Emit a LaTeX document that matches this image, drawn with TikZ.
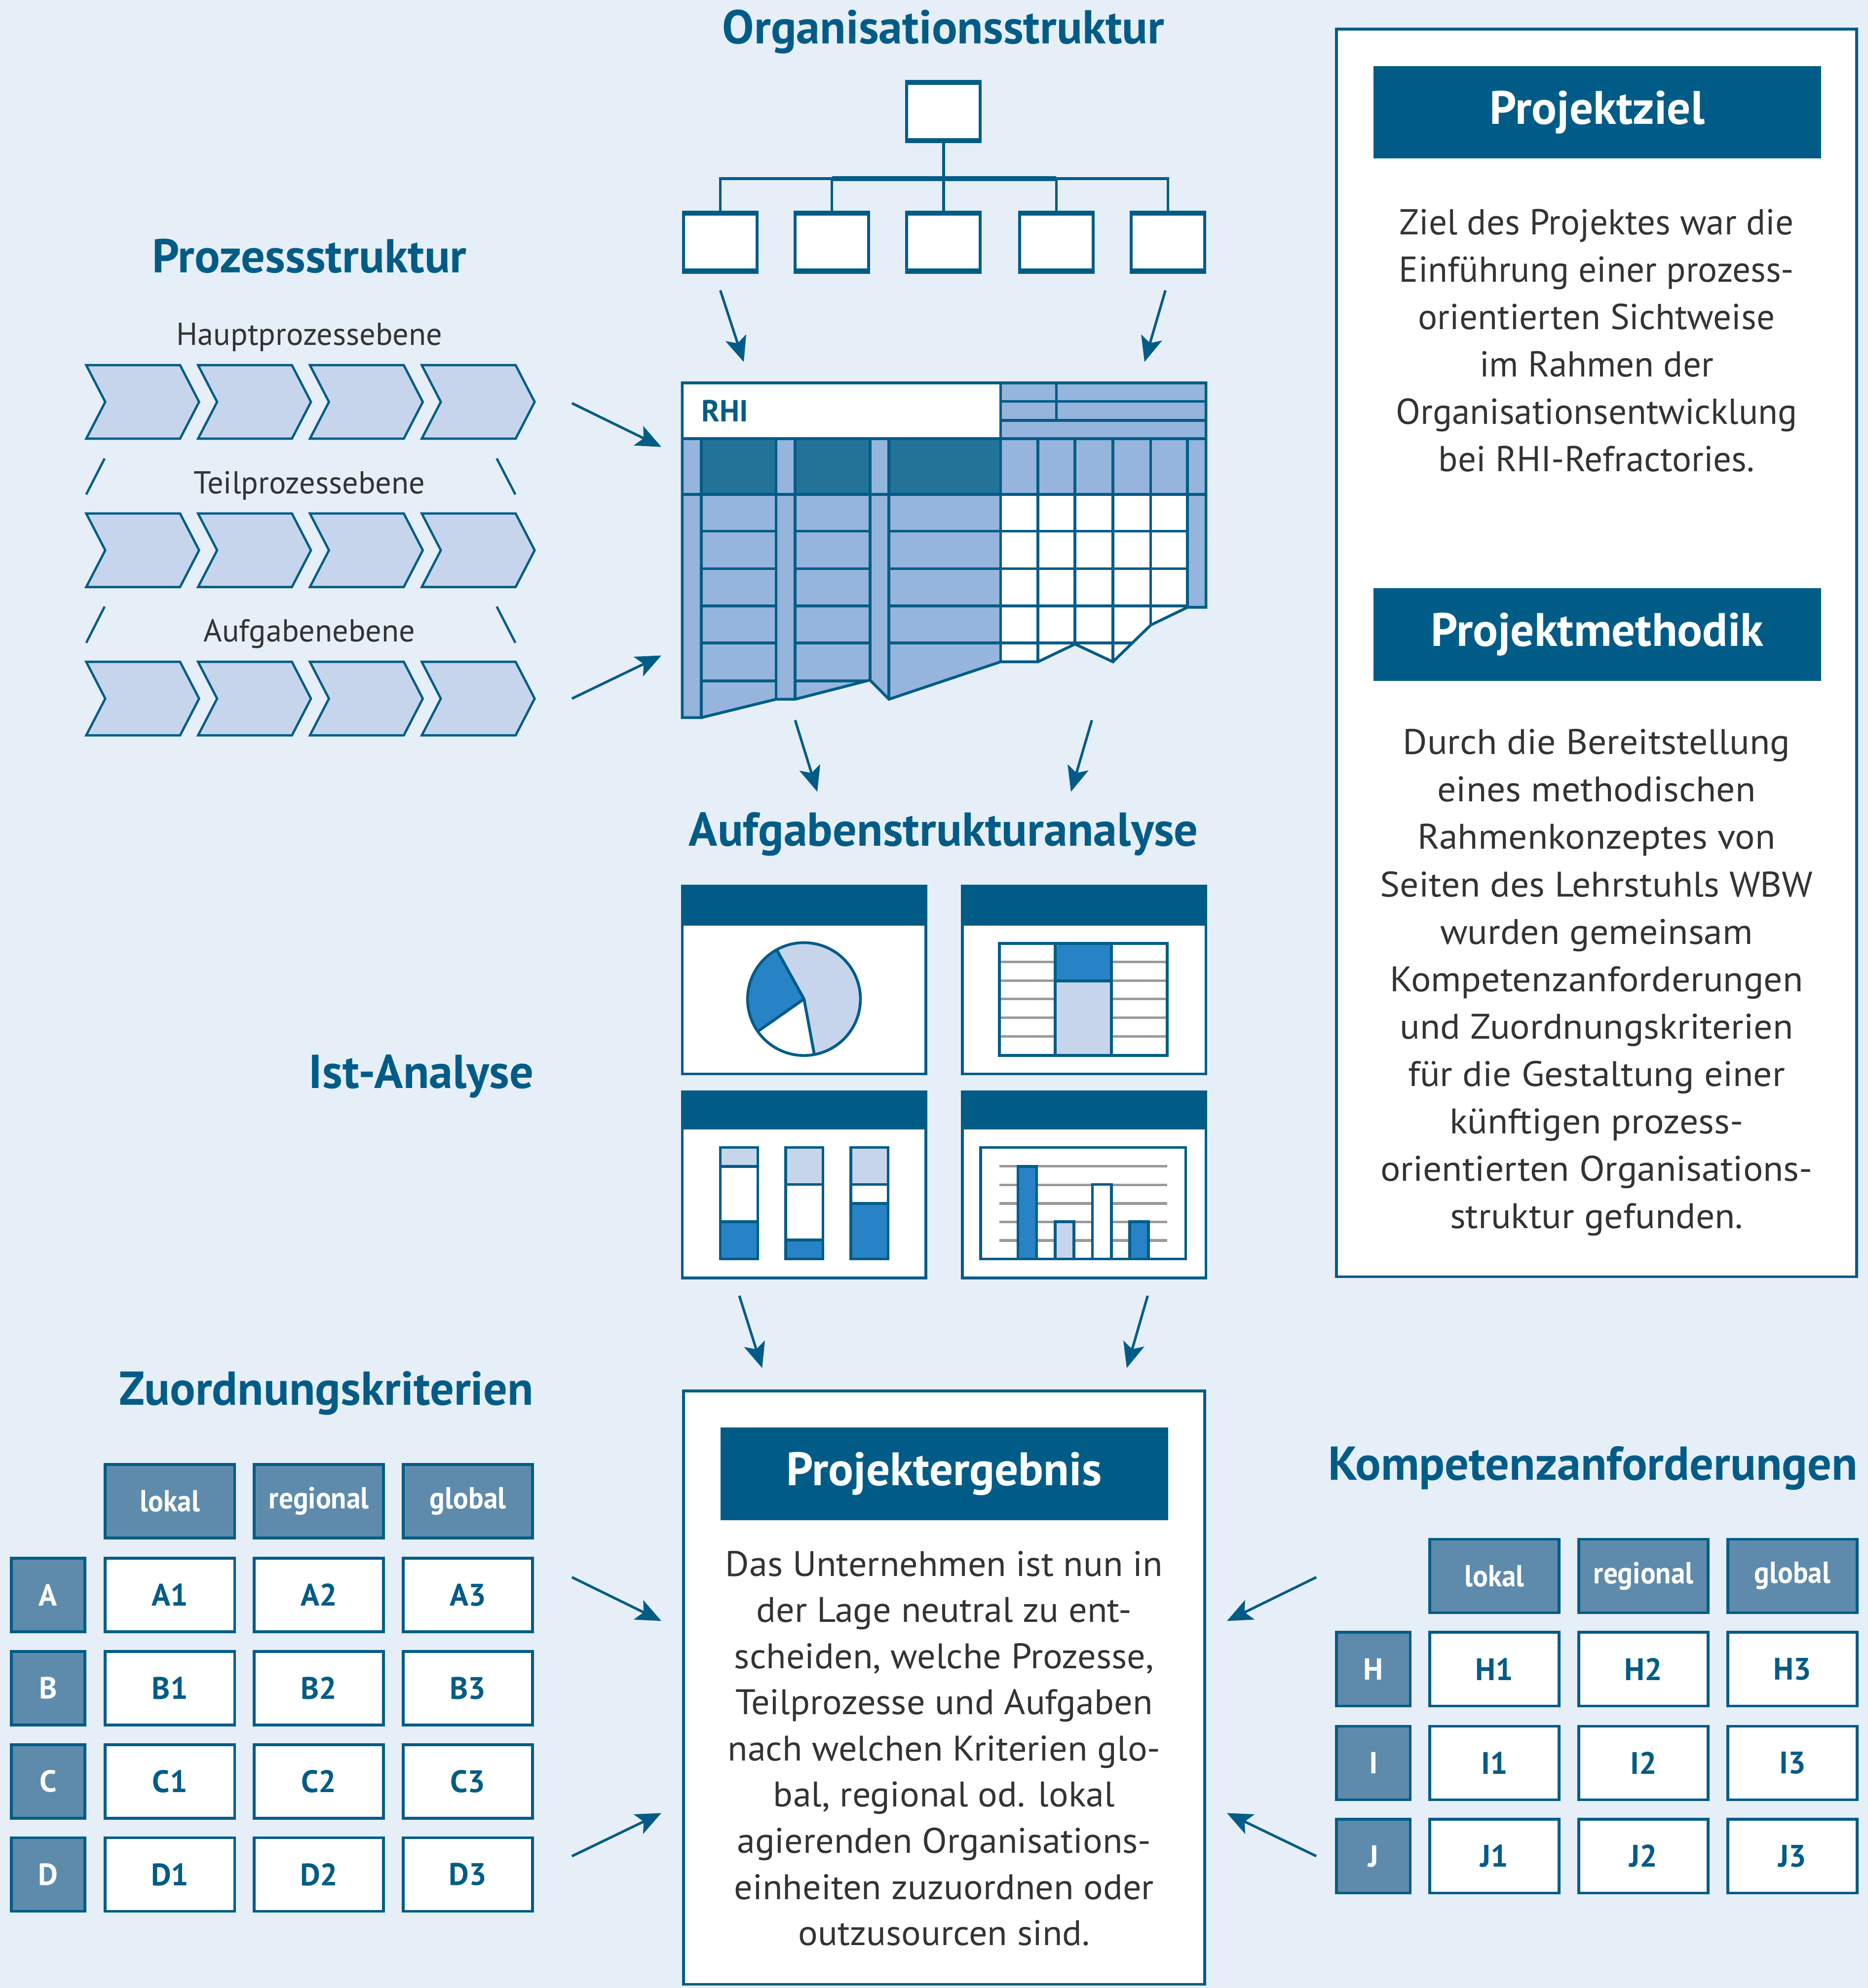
\documentclass[tikz,border=0pt]{standalone}
\usepackage{fontspec}
\setmainfont{PT Sans}
\newfontfamily\widefont[FakeStretch=1.05]{PT Sans}
\newfontfamily\ergfont[FakeStretch=1.03]{PT Sans}
\newfontfamily\condfont[FakeStretch=0.93]{PT Sans}
\usetikzlibrary{arrows.meta}
\definecolor{bg}{HTML}{E6EEF7}
\definecolor{dblue}{HTML}{005C87}
\definecolor{mblue}{HTML}{5E8BAC}
\definecolor{chevfill}{HTML}{C6D5EC}
\definecolor{tlight}{HTML}{95B5DC}
\definecolor{tdark}{HTML}{237399}
\definecolor{bblue}{HTML}{2882C6}
\definecolor{glines}{HTML}{9A9A9A}
\definecolor{tgray}{HTML}{333333}
\begin{document}
\begin{tikzpicture}[x=1pt,y=-1pt,
  ln/.style={draw=dblue,line width=2.2pt},
  arr/.style={draw=dblue,line width=2pt,-{Stealth[length=20pt,width=17pt,inset=4.5pt]}},
  ttl/.style={text=dblue,inner sep=0pt,font=\fontsize{37.5}{42}\selectfont\bfseries},
  bar/.style={fill=dblue,text=white,inner sep=0pt,minimum width=353pt,minimum height=73pt,font=\fontsize{37}{42}\selectfont\bfseries},
  body/.style={text=tgray,align=center,inner sep=0pt,font=\fontsize{28.4}{37.4}\selectfont},
  wbody/.style={text=tgray,align=center,inner sep=0pt,font=\widefont\fontsize{28}{37.4}\selectfont},
  ebody/.style={text=tgray,align=center,inner sep=0pt,font=\ergfont\fontsize{28}{36.4}\selectfont},
  hcell/.style={draw=dblue,line width=2.2pt,fill=mblue,text=white,inner sep=0pt,minimum width=102pt,minimum height=58pt,font=\condfont\fontsize{24}{28}\selectfont\bfseries},
  rcell/.style={hcell,minimum width=58pt,font=\fontsize{24}{28}\selectfont\bfseries},
  vcell/.style={draw=dblue,line width=2.2pt,fill=white,text=dblue,inner sep=0pt,minimum width=102pt,minimum height=58pt,font=\fontsize{24.5}{28}\selectfont\bfseries},
  lbl/.style={text=tgray,inner sep=0pt,font=\fontsize{25}{29}\selectfont},
  orgbox/.style={draw=dblue,line width=2.2pt,fill=white,minimum width=58pt,minimum height=44pt,inner sep=0pt},
  chev/.style={draw=dblue,line width=1.8pt,fill=chevfill,line join=miter},
  glin/.style={draw=glines,line width=2pt},
]
\fill[bg] (0,0) rectangle (1473,1568);
\useasboundingbox (0,0) rectangle (1473,1568);

% ---------- titles ----------
\node[ttl] (tOrg) at (744,25) {Organisationsstruktur};
\node[ttl] (tProz) at (244,202) {Prozessstruktur};
\node[ttl] (tAuf) at (744,658) {Aufgabenstrukturanalyse};
\node[ttl,anchor=east] (tIst) at (421,849) {Ist-Analyse};
\node[ttl,anchor=east] (tZuo) at (421,1099) {Zuordnungskriterien};
\node[ttl,anchor=east] (tKom) at (1465,1158) {Kompetenzanforderungen};

% ---------- org chart ----------
\node[orgbox] (o0) at (744,88) {};
\foreach \i/\x in {1/568,2/656,3/744,4/833,5/921}
  \node[orgbox] (o\i) at (\x,191) {};
\coordinate (bus) at (744,141);
\draw[ln] (o0.south) -- (bus);
\draw[ln] (o1.north) |- (bus) -| (o5.north);
\draw[draw=dblue,line width=3.8pt] (o2.north |- bus) -- (o4.north |- bus);
\foreach \i in {2,3,4} \draw[ln] (o\i.north) -- (o\i.north |- bus);
\foreach \i in {0,1,2,3,4,5} {
  \draw[draw=dblue,line width=3.6pt] (o\i.north west) -- (o\i.north east);
  \draw[draw=dblue,line width=3.6pt] (o\i.south west) -- (o\i.south east);
}

% ---------- chevrons ----------
\foreach \y in {288,405,522}
  \foreach \i in {0,1,2,3} {
    \pgfmathsetmacro\b{68+88.2*\i}
    \draw[chev] (\b,\y) -- (\b+74,\y) -- (\b+89,\y+29) -- (\b+74,\y+58) -- (\b,\y+58) -- (\b+15,\y+29) -- cycle;
  }
\node[lbl] (lHaupt) at (244,266) {Hauptprozessebene};
\node[lbl] (lTeil) at (244,383) {Teilprozessebene};
\node[lbl] (lAuf) at (244,500) {Aufgabenebene};
\draw[draw=dblue,line width=1.8pt] (68,390) -- (82.5,361.6);
\draw[draw=dblue,line width=1.8pt] (406.4,390) -- (391.7,361.6);
\draw[draw=dblue,line width=1.8pt] (68,507) -- (82.5,478.4);
\draw[draw=dblue,line width=1.8pt] (406.4,507) -- (391.7,478.4);

% ---------- RHI table ----------
\fill[tlight] (538,302) -- (951,302) -- (951,479) -- (936.4,479) -- (907.4,493) -- (877.6,522) -- (847.7,508) -- (818.4,522) -- (789,522) -- (701,551.5) -- (686,536.4) -- (627,551.5) -- (612,551.5) -- (553,566) -- (538,566) -- cycle;
\fill[white] (538,302) rectangle (789,346);
\fill[tdark] (553,346) rectangle (612,390) (627,346) rectangle (686,390) (701,346) rectangle (789,390);
\begin{scope}
\clip (538,302) -- (951,302) -- (951,479) -- (936.4,479) -- (907.4,493) -- (877.6,522) -- (847.7,508) -- (818.4,522) -- (789,522) -- (701,551.5) -- (686,536.4) -- (627,551.5) -- (612,551.5) -- (553,566) -- (538,566) -- cycle;
\fill[white] (789,390) rectangle (936.4,600);
\draw[ln] (538,346) -- (951,346) (538,390) -- (951,390);
\draw[ln] (789,316.6) -- (951,316.6) (789,331.7) -- (951,331.7) (833,302) -- (833,331.7);
\foreach \x in {553,612,627,686,701,818.4,847.7,877.6,907.4,936.4} \draw[ln] (\x,346) -- (\x,600);
\draw[ln] (789,302) -- (789,600);
\foreach \y in {419,448.5,478,507} \draw[ln] (553,\y) -- (612,\y) (627,\y) -- (686,\y) (701,\y) -- (936.4,\y);
\draw[ln] (553,537) -- (612,537) (627,537) -- (686,537);
\end{scope}
\draw[ln,line join=miter] (538,302) -- (951,302) -- (951,479) -- (936.4,479) -- (907.4,493) -- (877.6,522) -- (847.7,508) -- (818.4,522) -- (789,522) -- (701,551.5) -- (686,536.4) -- (627,551.5) -- (612,551.5) -- (553,566) -- (538,566) -- cycle;
\node[anchor=west,text=dblue,inner sep=0pt,font=\fontsize{24}{28}\selectfont\bfseries] (rhi) at (553,324) {RHI};

% ---------- Ist-Analyse panels ----------
% top left: pie
\draw[ln,fill=white] (538,699) rectangle (730,847);
\fill[dblue] (536.9,697.9) rectangle (731.1,730);
\filldraw[ln,fill=chevfill,line join=round] (634,788) -- ++(-119:44.5) arc[start angle=-119,end angle=79.5,radius=44.5] -- cycle;
\filldraw[ln,fill=bblue,line join=round] (634,788) -- ++(-215:44.5) arc[start angle=-215,end angle=-119,radius=44.5] -- cycle;
\filldraw[ln,fill=white,line join=round] (634,788) -- ++(-280.5:44.5) arc[start angle=-280.5,end angle=-215,radius=44.5] -- cycle;
% top right: table
\draw[ln,fill=white] (759,699) rectangle (951,847);
\fill[dblue] (757.9,697.9) rectangle (952.1,730);
\foreach \y in {758.6,773.4,788,802.6,817.4} \draw[glin] (788,\y) -- (920.4,\y);
\filldraw[ln,fill=bblue] (832.1,744) rectangle (876.3,773.6);
\filldraw[ln,fill=chevfill] (832.1,773.6) rectangle (876.3,832.4);
\draw[ln] (788,744) rectangle (920.4,832.4);
% bottom left: stacked bars
\draw[ln,fill=white] (538,861) rectangle (730,1008);
\fill[dblue] (536.9,859.9) rectangle (731.1,891);
\filldraw[ln,fill=chevfill] (568,905) rectangle (597.6,919.9);
\filldraw[ln,fill=white] (568,919.9) rectangle (597.6,963.5);
\filldraw[ln,fill=bblue] (568,963.5) rectangle (597.6,993);
\filldraw[ln,fill=chevfill] (619.6,905) rectangle (649,934.2);
\filldraw[ln,fill=white] (619.6,934.2) rectangle (649,978);
\filldraw[ln,fill=bblue] (619.6,978) rectangle (649,993);
\filldraw[ln,fill=chevfill] (670.9,905) rectangle (700.3,934.2);
\filldraw[ln,fill=white] (670.9,934.2) rectangle (700.3,949.2);
\filldraw[ln,fill=bblue] (670.9,949.2) rectangle (700.3,993);
% bottom right: bar chart
\draw[ln,fill=white] (759,861) rectangle (951,1008);
\fill[dblue] (757.9,859.9) rectangle (952.1,891);
\foreach \y in {919.9,934.6,949.2,963.7,978.4} \draw[glin] (788,\y) -- (920.4,\y);
\filldraw[ln,fill=bblue] (802.7,919.9) rectangle (817.4,993);
\filldraw[ln,fill=chevfill] (832.1,963.7) rectangle (846.8,993);
\filldraw[ln,fill=white] (861.5,934.2) rectangle (876.3,993);
\filldraw[ln,fill=bblue] (890.9,963.7) rectangle (905.7,993);
\draw[ln] (773.3,905) rectangle (935,993);

% ---------- right info box ----------
\node[ln,fill=white,minimum width=410pt,minimum height=984pt,inner sep=0pt] (info) at (1259,515) {};
\node[bar] (bZiel) at (1259.5,88.5) {Projektziel};
\node[body] (txZiel) at (1259,268.5) {Ziel des Projektes war die\\Einführung einer prozess-\\orientierten Sichtweise\\im Rahmen der\\Organisationsentwicklung\\bei RHI-Refractories.};
\node[bar] (bMeth) at (1259.5,500.5) {Projektmethodik};
\node[wbody] (txMeth) at (1259,775) {Durch die Bereitstellung\\eines methodischen\\Rahmenkonzeptes von\\Seiten des Lehrstuhls WBW\\wurden gemeinsam\\Kompetenzanforderungen\\und Zuordnungskriterien\\für die Gestaltung einer\\künftigen prozess-\\orientierten Organisations-\\struktur gefunden.};

% ---------- Projektergebnis ----------
\node[ln,fill=white,minimum width=411pt,minimum height=468pt,inner sep=0pt] (erg) at (744.5,1331) {};
\node[bar] (bErg) at (744.5,1162.5) {Projektergebnis};
\node[ebody] (txErg) at (744.5,1379) {Das Unternehmen ist nun in\\der Lage neutral zu ent-\\scheiden, welche Prozesse,\\Teilprozesse und Aufgaben\\nach welchen Kriterien glo-\\bal, regional od. lokal\\agierenden Organisations-\\einheiten zuzuordnen oder\\outzusourcen sind.};

% ---------- Zuordnungskriterien table ----------
\foreach \t/\x in {lokal/134,regional/251.5,global/369}
  \node[hcell] (zh\t) at (\x,1184) {\t};
\foreach \r/\y in {A/1258,B/1331.5,C/1405,D/1478.5} {
  \node[rcell] (z\r) at (38,\y) {\r};
  \foreach \c/\x in {1/134,2/251.5,3/369}
    \node[vcell] (z\r\c) at (\x,\y) {\r\c};
}

% ---------- Kompetenzanforderungen table ----------
\foreach \t/\x in {lokal/1178.5,regional/1296,global/1413.5}
  \node[hcell] (kh\t) at (\x,1243) {\t};
\foreach \r/\y in {H/1316.5,I/1390.5,J/1464} {
  \node[rcell] (k\r) at (1083,\y) {\r};
  \foreach \c/\x in {1/1178.5,2/1296,3/1413.5}
    \node[vcell] (k\r\c) at (\x,\y) {\r\c};
}

% ---------- arrows ----------
\foreach \n/\sx/\sy/\ex/\ey in {
  1/568/229/586.5/285.5, 2/919/229/902.5/285.5,
  3/451/318/521.5/352.5, 4/451/551/521.5/517,
  5/627/568/644.5/624.5, 6/861/568/844.5/624.5,
  7/583/1022/601/1079, 8/905/1022/888.5/1079,
  9/451/1244/521.5/1278.5, 10/451/1464/521.5/1430,
  11/1038/1244/967.5/1278.5, 12/1038/1464/967.5/1430} {
  \coordinate (as\n) at (\sx,\sy);
  \coordinate (ae\n) at (\ex,\ey);
  \draw[arr] (as\n) -- (ae\n);
}
\end{tikzpicture}
\end{document}
